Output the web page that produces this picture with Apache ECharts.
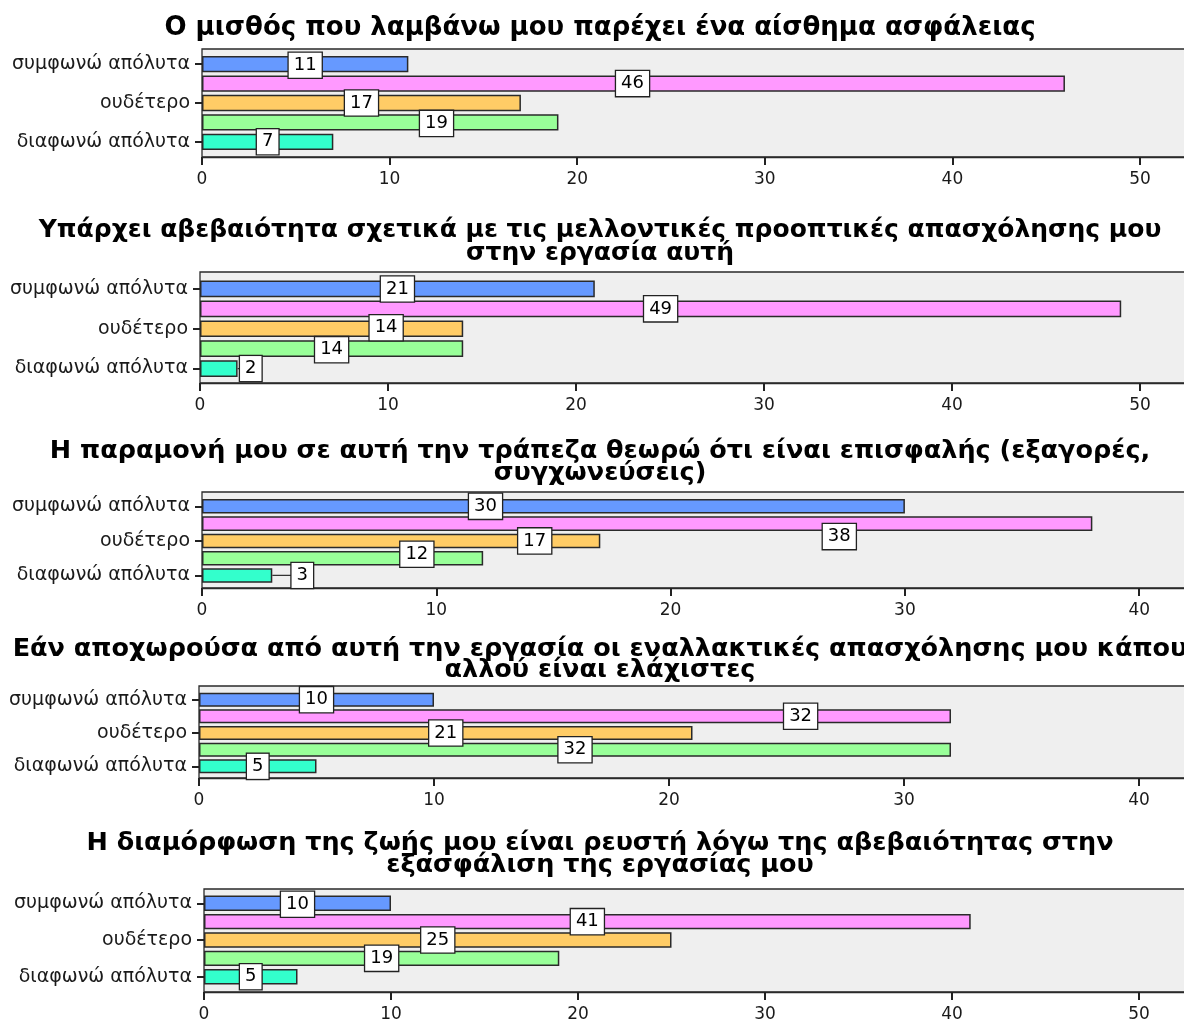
<!DOCTYPE html>
<html>
<head>
<meta charset="utf-8">
<script src="https://cdn.jsdelivr.net/npm/echarts@6/dist/echarts.min.js"></script>
<style>
  html, body { margin: 0; padding: 0; background: #ffffff; overflow: hidden; }
  /* plotting areas run on past the right edge of the view */
  #chart { width: 1240px; height: 1023px; }
</style>
</head>
<body>
<div id="chart"></div>
<script>
// Response categories (only every other one carries a visible label)
const categories = ['συμφωνώ απόλυτα', 'συμφωνώ', 'ουδέτερο', 'διαφωνώ', 'διαφωνώ απόλυτα'];

// Panel titles
const titles = [
  'Ο μισθός που λαμβάνω μου παρέχει ένα αίσθημα ασφάλειας',
  'Υπάρχει αβεβαιότητα σχετικά με τις μελλοντικές προοπτικές απασχόλησης μου\nστην εργασία αυτή',
  'Η παραμονή μου σε αυτή την τράπεζα θεωρώ ότι είναι επισφαλής (εξαγορές,\nσυγχωνεύσεις)',
  'Εάν αποχωρούσα από αυτή την εργασία οι εναλλακτικές απασχόλησης μου κάπου\nαλλού είναι ελάχιστες',
  'Η διαμόρφωση της ζωής μου είναι ρευστή λόγω της αβεβαιότητας στην\nεξασφάλιση της εργασίας μου'
];

// Counts per response, one array per statement
const salarySecurity    = [11, 46, 17, 19, 7];
const futureUncertainty = [21, 49, 14, 14, 2];
const bankInsecurity    = [30, 38, 17, 12, 3];
const fewAlternatives   = [10, 32, 21, 32, 5];
const lifeFluidity      = [10, 41, 25, 19, 5];

const panelValues = [salarySecurity, futureUncertainty, bankInsecurity, fewAlternatives, lifeFluidity];

// Axis ticks on the count axis
const tickStep = 10;

// Bar fill per response category
const barColors = ['#6699ff', '#ff99ff', '#ffcc66', '#99ff99', '#33ffcc'];

// Panel geometry (pixels) and where each value box sits along its bar (axis units)
const layout = [
  { titleY: 28,  titleSize: 26,   lineH: 23, frameTop: 49,  frameBottom: 157, bandTop: 54.5, bandBottom: 151.5, left: 202, scale: 18.76, max: 53,
    labelAt: [5.5, 22.95, 8.5, 12.5, 3.5],  labelDy: [1, 0, 0, 1, 0] },
  { titleY: 230, titleSize: 25,   lineH: 23, frameTop: 272, frameBottom: 383, bandTop: 279, bandBottom: 378.5, left: 200, scale: 18.8, max: 53,
    labelAt: [10.5, 24.5, 9.9, 7.0, 2.7],   labelDy: [0, 0, -1, 1, 0] },
  { titleY: 451, titleSize: 25.5, lineH: 22, frameTop: 492, frameBottom: 588, bandTop: 497.7, bandBottom: 584.1, left: 202, scale: 23.43, max: 43,
    labelAt: [12.1, 27.2, 14.2, 9.17, 4.28], labelDy: [0, 13, 0, -4, 0] },
  { titleY: 649, titleSize: 25.5, lineH: 21, frameTop: 686, frameBottom: 778, bandTop: 691.3, bandBottom: 774.7, left: 199, scale: 23.5, max: 43,
    labelAt: [5.0, 25.6, 10.5, 16.0, 2.5],  labelDy: [0, 0, 0, 0, 0] },
  { titleY: 843, titleSize: 25.5, lineH: 22, frameTop: 889, frameBottom: 992, bandTop: 894.1, bandBottom: 985.9, left: 204, scale: 18.7, max: 53,
    labelAt: [5.0, 20.5, 12.5, 9.5, 2.5],   labelDy: [1, 0, 0, 0, 0] }
];

const FONT = 'DejaVu Sans';
const INK = '#1a1a1a';

const option = {
  animation: false,
  backgroundColor: '#ffffff',
  title: [],
  grid: [],
  xAxis: [],
  yAxis: [],
  series: []
};

layout.forEach((p, i) => {
  const values = panelValues[i];
  const width = p.max * p.scale;
  const frameIdx = i * 2;
  const barIdx = i * 2 + 1;

  option.title.push({
    text: titles[i],
    left: 600,
    top: p.titleY - p.lineH / 2,
    textAlign: 'center',
    padding: 0,
    textStyle: { fontFamily: FONT, fontWeight: 'bold', fontSize: p.titleSize, lineHeight: p.lineH, color: '#000' }
  });

  // Framed, shaded plotting area carrying the count axis
  option.grid.push({
    left: p.left, top: p.frameTop, width: width, height: p.frameBottom - p.frameTop,
    show: true, backgroundColor: '#efefef', borderColor: '#2a2a2a', borderWidth: 1.3
  });
  // Inner band holding the bars
  option.grid.push({
    left: p.left, top: p.bandTop, width: width, height: p.bandBottom - p.bandTop
  });

  option.xAxis.push({
    type: 'value', gridIndex: frameIdx, min: 0, max: p.max, interval: tickStep,
    axisLine: { show: true, lineStyle: { color: '#2a2a2a', width: 1.3 } },
    axisTick: { show: true, length: 8, lineStyle: { color: '#222', width: 2 } },
    axisLabel: { fontFamily: FONT, fontSize: 17, color: INK, margin: 14, showMaxLabel: false,
      formatter: v => (v % tickStep === 0 ? String(v) : '') },
    splitLine: { show: false }
  });
  option.yAxis.push({ type: 'value', gridIndex: frameIdx, min: 0, max: 1, show: false });

  option.xAxis.push({ type: 'value', gridIndex: barIdx, min: 0, max: p.max, show: false });
  option.yAxis.push({
    type: 'category', gridIndex: barIdx, data: categories, inverse: true,
    axisLine: { show: false },
    axisTick: { show: true, interval: 1, alignWithLabel: true, length: 7, lineStyle: { color: '#222', width: 2 } },
    axisLabel: { interval: 1, fontFamily: FONT, fontSize: 19, color: INK, margin: 12 }
  });

  option.series.push({
    type: 'bar', xAxisIndex: barIdx, yAxisIndex: barIdx,
    data: values,
    barCategoryGap: '16%',
    itemStyle: { color: params => barColors[params.dataIndex], borderColor: '#2a2a2a', borderWidth: 1.5 },
    z: 2
  });

  // Short leader line for value boxes that sit past the end of their bar
  values.forEach((v, k) => {
    if (p.labelAt[k] > v) {
      option.series.push({
        type: 'line', xAxisIndex: barIdx, yAxisIndex: barIdx,
        data: [[v, k], [p.labelAt[k], k]],
        symbol: 'none', lineStyle: { color: '#333', width: 1.2 }, z: 3, silent: true
      });
    }
  });

  // Boxed value labels
  option.series.push({
    type: 'scatter', xAxisIndex: barIdx, yAxisIndex: barIdx,
    data: values.map((v, k) => ({ value: [p.labelAt[k], k], label: { offset: [0, p.labelDy[k]] } })),
    symbolSize: 1,
    itemStyle: { color: 'rgba(0,0,0,0)', opacity: 1 },
    label: {
      show: true, position: 'inside',
      formatter: params => String(values[params.dataIndex]),
      fontFamily: FONT, fontSize: 18, color: '#000',
      backgroundColor: '#ffffff', borderColor: '#222', borderWidth: 1.3, padding: [4, 5, 3, 5]
    },
    z: 5
  });
});

const chart = echarts.init(document.getElementById('chart'), null, { renderer: 'canvas' });
chart.setOption(option);
</script>
</body>
</html>
